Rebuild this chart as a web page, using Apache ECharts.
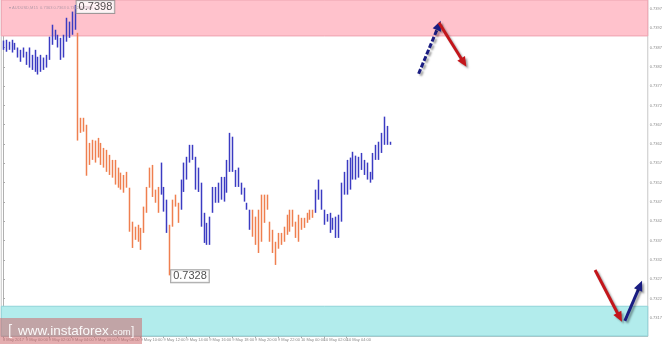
<!DOCTYPE html>
<html><head><meta charset="utf-8">
<script src="https://cdn.jsdelivr.net/npm/echarts@6/dist/echarts.min.js"></script>
<style>html,body{margin:0;padding:0;background:#fff}#c{width:665px;height:344px}</style>
</head><body><div id="c"></div>
<script>
// ---- data (AUDUSD, M15) ----
const highs = [
0.73888,0.73890,0.73885,0.73890,0.73882,0.73870,0.73864,0.73870,0.73859,0.73870,
0.73851,0.73864,0.73846,0.73851,0.73844,0.73851,0.73898,0.73929,0.73916,0.73903,
0.73895,0.73903,0.73947,0.73937,0.73963,0.73980,0.73908,0.73688,0.73688,0.73670,
0.73623,0.73631,0.73629,0.73636,0.73623,0.73610,0.73605,0.73592,0.73579,0.73579,
0.73559,0.73546,0.73540,0.73548,0.73507,0.73419,0.73406,0.73411,0.73403,0.73458,
0.73509,0.73559,0.73566,0.73502,0.73509,0.73572,0.73509,0.73476,0.73411,0.73476,
0.73489,0.73468,0.73528,0.73572,0.73587,0.73618,0.73618,0.73587,0.73559,0.73520,
0.73442,0.73416,0.73432,0.73509,0.73509,0.73520,0.73535,0.73535,0.73579,0.73649,
0.73639,0.73553,0.73559,0.73520,0.73507,0.73468,0.73450,0.73450,0.73432,0.73450,
0.73489,0.73489,0.73489,0.73419,0.73398,0.73367,0.73390,0.73390,0.73406,0.73437,
0.73450,0.73450,0.73419,0.73437,0.73429,0.73429,0.73442,0.73450,0.73450,0.73502,
0.73528,0.73502,0.73450,0.73439,0.73442,0.73429,0.73432,0.73437,0.73520,0.73548,
0.73579,0.73585,0.73600,0.73590,0.73587,0.73597,0.73579,0.73572,0.73548,0.73597,
0.73618,0.73626,0.73649,0.73691,0.73667,0.73626];
const lows = [
0.73864,0.73859,0.73864,0.73857,0.73864,0.73844,0.73833,0.73844,0.73825,0.73818,
0.73812,0.73807,0.73800,0.73807,0.73812,0.73818,0.73838,0.73877,0.73890,0.73870,
0.73838,0.73844,0.73885,0.73895,0.73903,0.73916,0.73629,0.73649,0.73652,0.73538,
0.73566,0.73579,0.73572,0.73585,0.73566,0.73559,0.73548,0.73540,0.73533,0.73515,
0.73507,0.73502,0.73494,0.73507,0.73393,0.73351,0.73372,0.73367,0.73346,0.73390,
0.73442,0.73507,0.73483,0.73468,0.73442,0.73489,0.73445,0.73390,0.73280,0.73406,
0.73458,0.73416,0.73450,0.73496,0.73528,0.73572,0.73579,0.73502,0.73496,0.73406,
0.73364,0.73359,0.73359,0.73442,0.73468,0.73468,0.73476,0.73471,0.73494,0.73548,
0.73548,0.73509,0.73509,0.73489,0.73471,0.73450,0.73398,0.73380,0.73359,0.73338,
0.73367,0.73416,0.73450,0.73367,0.73338,0.73307,0.73349,0.73359,0.73367,0.73385,
0.73393,0.73406,0.73377,0.73367,0.73398,0.73403,0.73416,0.73424,0.73429,0.73442,
0.73476,0.73450,0.73411,0.73419,0.73390,0.73398,0.73377,0.73377,0.73419,0.73489,
0.73489,0.73502,0.73528,0.73528,0.73533,0.73553,0.73540,0.73528,0.73520,0.73528,
0.73579,0.73579,0.73597,0.73618,0.73618,0.73618];
const waveStarts = [0, 26, 55, 58, 62, 87, 109];
const waveDirs = [1, -1, 1, -1, 1, -1, 1];
const timeLabels = ['8 May 2017','9 May 00:00','9 May 02:00','9 May 04:00','9 May 06:00','9 May 08:00',
  '9 May 10:00','9 May 12:00','9 May 14:00','9 May 16:00','9 May 18:00','9 May 20:00','9 May 22:00',
  '10 May 00:00','10 May 02:00','10 May 04:00','10 May 06:00'];
const barsPerLabel = 8;
const priceTicks = [0.7317,0.7322,0.7327,0.7332,0.7337,0.7342,0.7347,0.7352,0.7357,0.7362,
  0.7367,0.7372,0.7377,0.7382,0.7387,0.7392,0.7397];
const resistanceZone = [0.7390, 0.73993];
const supportZone = [0.73123, 0.7320];
const extremes = [[25, 0.7398, '0.7398'], [58, 0.7328, '0.7328']];
const lastPrice = 0.73628;
const headerText = '\u25BE AUDUSD,M15  0.7363 0.7363 0.7362 0.7363';
// forecast arrows: [fromIndex, fromPrice, toIndex, toPrice, direction, dashed]
const forecastArrows = [
  [145.1, 0.73802, 152.8, 0.73939, 1, 1],
  [152.2, 0.73934, 161.8, 0.73820, -1, 0],
  [206.7, 0.73294, 216.1, 0.73160, -1, 0],
  [217.1, 0.73162, 223.1, 0.73266, 1, 0]
];

// ---- build ----
function dirAt(i){ let d = waveDirs[0]; for (let k=0;k<waveStarts.length;k++){ if (i>=waveStarts[k]) d = waveDirs[k]; } return d; }
const barData = highs.map((h,i)=>[i, lows[i], h, dirAt(i)]);
const labelValues = timeLabels.map((_,k)=>k*barsPerLabel);

const BLUE='#3b3bc2', ORANGE='#ef7f4f', NAVY='#1a1d82', RED='#c3161b';

function renderBar(params, api){
  const i = api.value(0);
  const p1 = api.coord([i, api.value(2)]);
  const p2 = api.coord([i, api.value(1)]);
  const x = Math.round(p1[0]) + 0.5;
  return {type:'line', shape:{x1:x, y1:p1[1], x2:x, y2:p2[1]},
    style:{stroke: api.value(3) === 1 ? BLUE : ORANGE, lineWidth:1.5}};
}
function renderArrow(params, api){
  const a = api.coord([api.value(0), api.value(1)]);
  const b = api.coord([api.value(2), api.value(3)]);
  const color = api.value(4) === 1 ? NAVY : RED;
  const dashed = api.value(5) === 1;
  const dx=b[0]-a[0], dy=b[1]-a[1], len=Math.hypot(dx,dy), ux=dx/len, uy=dy/len;
  const hl=10, hw=4.5;
  const base=[b[0]-ux*hl, b[1]-uy*hl];
  const head=[[b[0],b[1]],[base[0]-uy*hw, base[1]+ux*hw],[base[0]+uy*hw, base[1]-ux*hw]];
  const sh={shadowBlur:2, shadowColor:'rgba(0,0,0,0.35)', shadowOffsetX:2, shadowOffsetY:2};
  return {type:'group', children:[
    {type:'line', shape:{x1:a[0],y1:a[1],x2:base[0]+ux*1,y2:base[1]+uy*1},
      style:Object.assign({stroke:color, lineWidth:3, lineDash: dashed ? [5,2] : null}, sh)},
    {type:'polygon', shape:{points:head}, style:Object.assign({fill:color}, sh)}
  ]};
}

const chart = echarts.init(document.getElementById('c'), null, {renderer:'canvas'});
chart.setOption({
  animation:false,
  backgroundColor:'#ffffff',
  textStyle:{fontFamily:'Liberation Sans, Arial, sans-serif'},
  title:{text:headerText, left:4, top:1, textStyle:{fontSize:4, color:'#b59aa8', fontWeight:'normal'}},
  grid:{left:1, right:15, top:0, bottom:8, show:true, borderColor:'#c8c8c8', borderWidth:1, backgroundColor:'transparent'},
  xAxis:{type:'value', min:-0.6, max:225.1,
    axisLine:{show:true, lineStyle:{color:'#bdbdbd'}},
    splitLine:{show:false},
    axisTick:{show:true, length:2, customValues:labelValues, lineStyle:{color:'#aaa'}},
    axisLabel:{customValues:labelValues, formatter:v=>timeLabels[Math.round(v/barsPerLabel)]||'',
      fontSize:4, color:'#8a8a8a', align:'left', margin:2}},
  yAxis:{type:'value', position:'right', min:supportZone[0], max:resistanceZone[1], scale:true,
    axisLine:{show:true, lineStyle:{color:'#b0b0b0'}},
    splitLine:{show:false},
    axisTick:{show:true, length:2, customValues:priceTicks, lineStyle:{color:'#aaa'}},
    axisLabel:{customValues:priceTicks, formatter:v=>v.toFixed(4), fontSize:4, color:'#8a8a8a', margin:2}},
  series:[
    {type:'custom', name:'bars', renderItem:renderBar, data:barData, encode:{x:0, y:[1,2]}, z:3,
      markArea:{silent:true, data:[
        [{yAxis:resistanceZone[0], itemStyle:{color:'#ffc2cc', borderColor:'#eea3b0', borderWidth:1}}, {yAxis:resistanceZone[1]}],
        [{yAxis:supportZone[0], itemStyle:{color:'#b2ecec', borderColor:'#8fd3d8', borderWidth:1}}, {yAxis:supportZone[1]}]
      ]},
      markLine:{silent:true, symbol:'none', data:[{yAxis:lastPrice}],
        lineStyle:{opacity:0},
        label:{show:true, position:'end', distance:1, formatter:lastPrice.toFixed(4),
          backgroundColor:'#7a8499', color:'#eef', fontSize:4, padding:[1,1]}}},
    {type:'scatter', name:'extremes', data:extremes, symbolSize:0, z:5,
      label:{show:true, position:'right', distance:2, formatter:p=>p.data[2],
        fontSize:11, lineHeight:12, color:'#222', backgroundColor:'#fff', borderColor:'#8a8a8a', borderWidth:1, padding:[0,2]},
      labelLayout:(p)=> p.dataIndex===0 ? {dy:2} : {dy:1}},
    {type:'custom', name:'arrows', renderItem:renderArrow, data:forecastArrows, encode:{x:[0,2], y:[1,3]}, z:6, clip:false}
  ],
  graphic:{elements:[
    {type:'rect', z:100, shape:{x:0, y:318, width:142, height:26}, style:{fill:'rgba(205,105,110,0.55)'}},
    {type:'text', z:101, x:8, y:331, style:{text:'[', fill:'rgba(255,255,255,0.85)', fontSize:15, verticalAlign:'middle', fontFamily:'Liberation Sans'}},
    {type:'text', z:101, x:18, y:331, style:{text:'www.instaforex', fill:'rgba(255,255,255,0.92)', fontSize:13.5, verticalAlign:'middle', fontFamily:'Liberation Sans'}},
    {type:'text', z:101, x:110, y:332, style:{text:'.com', fill:'rgba(255,255,255,0.92)', fontSize:9.5, verticalAlign:'middle', fontFamily:'Liberation Sans'}},
    {type:'text', z:101, x:131, y:332, style:{text:']', fill:'rgba(255,255,255,0.85)', fontSize:12, verticalAlign:'middle', fontFamily:'Liberation Sans'}}
  ]}
});
</script></body></html>
